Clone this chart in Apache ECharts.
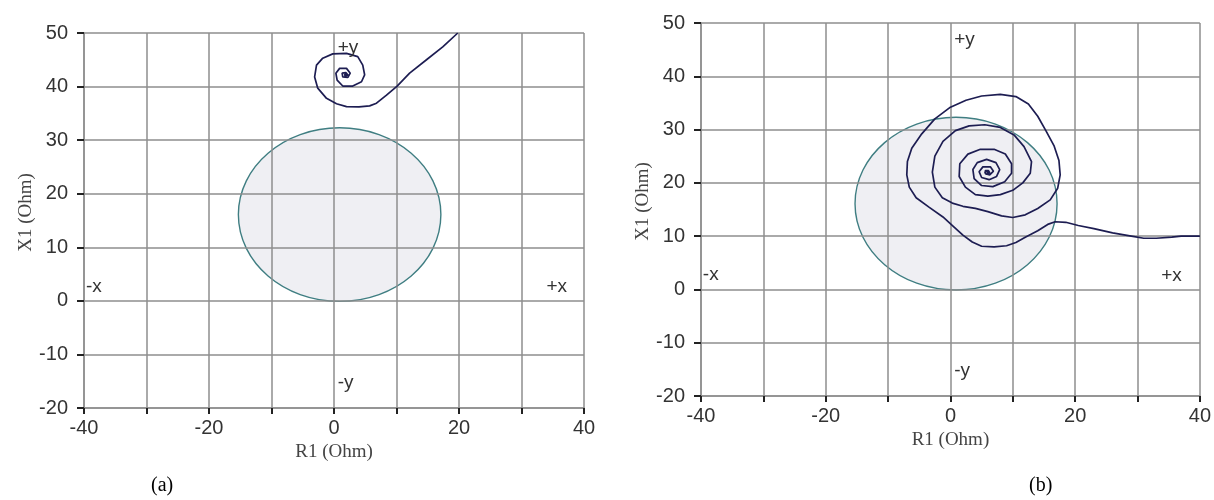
<!DOCTYPE html>
<html>
<head>
<meta charset="utf-8">
<script src="https://cdn.jsdelivr.net/npm/echarts@6/dist/echarts.min.js"></script>
<style>
  html, body { margin: 0; padding: 0; background: #ffffff; }
  #chart { width: 1214px; height: 500px; }
</style>
</head>
<body>
<div id="chart"></div>
<script>
// Axis ranges and tick step (Ohm)
const rRange = [-40, 40];
const xRange = [-20, 50];
const tickStep = 10;

// Mho characteristic: [centre R, centre X, radius]
const mhoCircle = [[0.9, 16.1, 16.2]];

// Quadrant markers: [R, X, text]
const quadrantA = [[-39.7, 2.6, '-x'], [34.0, 2.6, '+x'], [0.6, 47.3, '+y'], [0.6, -15.3, '-y']];
const quadrantB = [[-39.7, 2.7, '-x'], [33.8, 2.6, '+x'], [0.6, 46.9, '+y'], [0.6, -15.3, '-y']];

// Impedance trajectory, case (a): [R1, X1]
const trajA = [
  [19.8, 50], [17.4, 47.4], [14.8, 45], [12.1, 42.5], [10.1, 40.1], [8.4, 38.4],
  [6.8, 36.9], [5.7, 36.4], [4, 36.2], [2, 36.25], [0.4, 36.8], [-1.2, 37.8],
  [-2.6, 39.7], [-3.1, 41.8], [-2.8, 44], [-1.8, 45.3], [-0.2, 46.1], [2, 46.2],
  [3.8, 45.6], [4.6, 44], [4.9, 42.2], [4.4, 40.9], [3, 40.1], [1.4, 40.1],
  [0.5, 41.2], [0.3, 42.5], [0.9, 43.4], [2, 43.4], [2.6, 42.5], [2.2, 41.7],
  [1.4, 41.8], [1.3, 42.5], [1.9, 42.6], [2.2, 42.2], [1.8, 41.9], [1.7, 42.3], [2, 42.2]
];

// Impedance trajectory, case (b): [R1, X1]
const trajB = [
  [40, 10], [37, 10], [35.5, 9.8], [33, 9.6], [31, 9.6], [29, 10], [26, 10.6],
  [23, 11.4], [20.5, 12], [18.5, 12.6], [16.8, 12.7], [15.6, 12.2], [14, 11],
  [12, 9.8], [10.5, 8.8], [9, 8.2], [7, 8.0], [5, 8.1], [3.5, 8.9], [2, 10.2],
  [0.5, 11.8], [-1.2, 13.6], [-3.5, 15.5], [-5.5, 17.2], [-6.6, 19.2], [-7, 21.5],
  [-6.9, 24], [-6.2, 26.5], [-4.6, 29.2], [-2.5, 32], [0, 34.2], [2.5, 35.5],
  [5, 36.3], [8, 36.6], [10.5, 36.2], [12.5, 34.8], [14, 32.5], [15.3, 29.8],
  [16.6, 27], [17.4, 24.2], [17.6, 21.5], [17.2, 19], [16, 16.8], [14, 15.2],
  [12, 14], [10, 13.5], [8.2, 13.8], [6, 14.6], [4, 15.2], [2, 15.6], [0.3, 16.2],
  [-1.3, 17.2], [-2.5, 19.2], [-2.9, 22], [-2.5, 25], [-1.2, 27.8], [0.8, 29.8],
  [3, 30.7], [5.5, 30.9], [8, 30.4], [10.2, 29], [11.8, 26.8], [13, 24],
  [12.8, 21.8], [11.6, 20], [10, 18.6], [8, 17.8], [6, 17.5], [4, 17.8],
  [2.4, 19.2], [1.4, 21.2], [1.5, 23.6], [2.8, 25.4], [4.8, 26.3], [7, 26.3],
  [8.8, 25.4], [9.8, 23.6], [9.8, 21.8], [8.7, 20.2], [6.8, 19.3], [5, 19.5],
  [3.8, 20.8], [3.6, 22.5], [4.3, 23.8], [5.8, 24.4], [7.3, 23.8], [7.9, 22.5],
  [7.4, 21.2], [6.2, 20.6], [5, 21], [4.6, 22.1], [5.2, 23], [6.4, 23],
  [6.9, 22.2], [6.3, 21.5], [5.6, 21.7], [5.6, 22.3], [6.1, 22.3], [6.3, 21.9],
  [5.8, 21.6], [5.5, 22], [5.9, 22.2], [6, 21.9]
];

const SANS = '"Liberation Sans", Arial, sans-serif';
const SERIF = '"Liberation Serif", "Times New Roman", serif';
const GRID_GRAY = '#8e8e8e';
const TRACE = '#1d1d52';

function xAxisFor(i) {
  return {
    gridIndex: i, type: 'value', min: rRange[0], max: rRange[1], interval: tickStep,
    name: 'R1 (Ohm)', nameLocation: 'middle', nameGap: 33,
    nameTextStyle: { fontFamily: SERIF, fontSize: 19, color: '#444' },
    axisLine: { show: true, onZero: false, lineStyle: { color: GRID_GRAY, width: 1.5 } },
    axisTick: { show: true, length: 6, lineStyle: { color: '#222', width: 2 } },
    axisLabel: {
      fontFamily: SANS, fontSize: 20, color: '#333', margin: 10,
      formatter: v => (v % 20 === 0 ? String(v) : '')
    },
    splitLine: { show: true, lineStyle: { color: GRID_GRAY, width: 1.5 } }
  };
}

function yAxisFor(i) {
  return {
    gridIndex: i, type: 'value', min: xRange[0], max: xRange[1], interval: tickStep,
    name: 'X1 (Ohm)', nameLocation: 'middle', nameGap: 47, nameRotate: 90,
    nameTextStyle: { fontFamily: SERIF, fontSize: 19, color: '#444', padding: [0, 0, 0, 16] },
    axisLine: { show: true, onZero: false, lineStyle: { color: GRID_GRAY, width: 1.5 } },
    axisTick: { show: true, length: 7, lineStyle: { color: '#222', width: 2 } },
    axisLabel: { fontFamily: SANS, fontSize: 20, color: '#333', margin: 16 },
    splitLine: { show: true, lineStyle: { color: GRID_GRAY, width: 1.5 } }
  };
}

function circleSeries(i) {
  return {
    type: 'custom', xAxisIndex: i, yAxisIndex: i, z: -1, silent: true,
    data: mhoCircle,
    renderItem: function (params, api) {
      const c = api.coord([api.value(0), api.value(1)]);
      const s = api.size([api.value(2), api.value(2)]);
      return {
        type: 'ellipse',
        shape: { cx: c[0], cy: c[1], rx: s[0], ry: s[1] },
        style: { fill: '#efeff3', stroke: '#3f7e82', lineWidth: 1.4 }
      };
    }
  };
}

function labelSeries(i, items) {
  return {
    type: 'custom', xAxisIndex: i, yAxisIndex: i, z: 5, silent: true,
    data: items,
    renderItem: function (params, api) {
      const p = api.coord([api.value(0), api.value(1)]);
      return {
        type: 'text',
        style: {
          x: p[0], y: p[1], text: items[params.dataIndex][2],
          font: '19px ' + SANS, fill: '#333', align: 'left', verticalAlign: 'middle'
        }
      };
    }
  };
}

function traceSeries(i, data) {
  return {
    type: 'line', xAxisIndex: i, yAxisIndex: i, data: data,
    showSymbol: false, symbol: 'none', smooth: false, z: 4,
    lineStyle: { color: TRACE, width: 1.7 }
  };
}

const chart = echarts.init(document.getElementById('chart'), null, { renderer: 'canvas' });
chart.setOption({
  animation: false,
  backgroundColor: '#ffffff',
  grid: [
    { left: 84, top: 33, width: 500, height: 375 },
    { left: 701, top: 23, width: 501, height: 373 }
  ],
  xAxis: [xAxisFor(0), xAxisFor(1)],
  yAxis: [yAxisFor(0), yAxisFor(1)],
  series: [
    circleSeries(0), circleSeries(1),
    traceSeries(0, trajA), traceSeries(1, trajB),
    labelSeries(0, quadrantA), labelSeries(1, quadrantB)
  ],
  graphic: [
    { type: 'text', left: 151, top: 476, style: { text: '(a)', font: '20px ' + SERIF, fill: '#000' } },
    { type: 'text', left: 1029, top: 476, style: { text: '(b)', font: '20px ' + SERIF, fill: '#000' } }
  ]
});
</script>
</body>
</html>
